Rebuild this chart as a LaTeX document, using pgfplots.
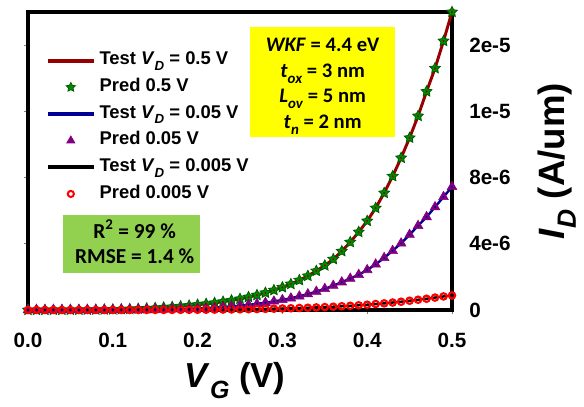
\documentclass[border=0pt]{standalone}
\usepackage{fontspec}
\setmainfont{Liberation Sans}
\newfontfamily\calfont{Carlito}
\usepackage{graphicx}
\usepackage{pgfplots}
\usepackage{pgfplotstable}
\pgfplotsset{compat=1.18}

\definecolor{dred}{RGB}{150,0,0}
\definecolor{navy}{RGB}{0,0,150}
\definecolor{sgreen}{RGB}{0,140,0}
\definecolor{dgreen}{RGB}{0,90,0}
\definecolor{purp}{RGB}{128,0,128}
\definecolor{ybox}{RGB}{255,255,0}
\definecolor{gbox}{RGB}{146,208,80}

\newcommand\sub[1]{\raisebox{-0.3em}{\scalebox{0.72}{#1}}}

\pgfdeclareplotmark{fstar}{%
  \pgfpathmoveto{\pgfpointpolar{90}{\pgfplotmarksize}}%
  \pgfpathlineto{\pgfpointpolar{126}{0.5\pgfplotmarksize}}%
  \pgfpathlineto{\pgfpointpolar{162}{\pgfplotmarksize}}%
  \pgfpathlineto{\pgfpointpolar{198}{0.5\pgfplotmarksize}}%
  \pgfpathlineto{\pgfpointpolar{234}{\pgfplotmarksize}}%
  \pgfpathlineto{\pgfpointpolar{270}{0.5\pgfplotmarksize}}%
  \pgfpathlineto{\pgfpointpolar{306}{\pgfplotmarksize}}%
  \pgfpathlineto{\pgfpointpolar{342}{0.5\pgfplotmarksize}}%
  \pgfpathlineto{\pgfpointpolar{18}{\pgfplotmarksize}}%
  \pgfpathlineto{\pgfpointpolar{54}{0.5\pgfplotmarksize}}%
  \pgfpathclose
  \pgfusepathqfillstroke}

% V_G (V), I_D (1e-6 A/um) for V_D = 0.5, 0.05, 0.005 V
\pgfplotstableread{
v g b r
0.00 0.0012 0.0004 0.00007
0.01 0.0017 0.0006 0.00009
0.02 0.0024 0.0008 0.00012
0.03 0.0034 0.0010 0.00016
0.04 0.0048 0.0014 0.00022
0.05 0.0068 0.0019 0.0003
0.06 0.0095 0.0025 0.0004
0.07 0.013 0.0034 0.0005
0.08 0.018 0.0045 0.0007
0.09 0.025 0.006 0.0009
0.10 0.033 0.008 0.0012
0.11 0.044 0.0105 0.0016
0.12 0.058 0.014 0.0021
0.13 0.075 0.018 0.0028
0.14 0.095 0.024 0.0036
0.15 0.12 0.031 0.0046
0.16 0.15 0.04 0.0059
0.17 0.185 0.05 0.0075
0.18 0.225 0.063 0.0095
0.19 0.27 0.078 0.012
0.20 0.32 0.096 0.015
0.21 0.37 0.118 0.019
0.22 0.43 0.145 0.023
0.23 0.50 0.177 0.028
0.24 0.58 0.215 0.034
0.25 0.67 0.26 0.041
0.26 0.78 0.31 0.049
0.27 0.90 0.37 0.058
0.28 1.04 0.44 0.068
0.29 1.20 0.52 0.079
0.30 1.37 0.61 0.091
0.31 1.57 0.71 0.105
0.32 1.80 0.83 0.12
0.33 2.06 0.96 0.137
0.34 2.36 1.11 0.156
0.35 2.69 1.28 0.177
0.36 3.07 1.47 0.20
0.37 3.55 1.68 0.225
0.38 4.10 1.90 0.255
0.39 4.71 2.13 0.285
0.40 5.38 2.42 0.32
0.41 6.16 2.76 0.36
0.42 7.07 3.15 0.40
0.43 8.08 3.58 0.45
0.44 9.19 4.03 0.50
0.45 10.4 4.55 0.56
0.46 11.72 5.09 0.62
0.47 13.2 5.62 0.68
0.48 14.6 6.22 0.75
0.49 16.25 6.83 0.82
0.50 18.0 7.44 0.88
}\data

\begin{document}
\begin{tikzpicture}
\begin{axis}[
  scale only axis, width=318pt, height=223.5pt,
  xmin=0, xmax=0.5, ymin=0, ymax=18,
  clip=false,
  axis line style={line width=2.6pt},
  xtick={0,0.1,0.2,0.3,0.4,0.5},
  xticklabels={0.0,0.1,0.2,0.3,0.4,0.5},
  ytick={0,4,8,12,16},
  yticklabels={0,4e-6,8e-6,1e-5,2e-5},
  tick align=outside, xtick pos=bottom, ytick pos=left, yticklabel pos=right,
  major tick length=3pt, tick style={gray, line width=0.6pt},
  ticklabel style={font=\bfseries\fontsize{15.5}{18}\selectfont},
  xticklabel style={anchor=north, inner sep=0pt, yshift=-14pt},
  yticklabel style={anchor=west, inner sep=0pt, xshift=9.75pt},
  xlabel={\textit{V}\sub{\textit{G}} (V)},
  ylabel={\textit{I}\sub{\textit{D}} (A/um)},
  every axis x label/.style={at={(axis description cs:0.488,-0.2617)}, anchor=base, font=\bfseries\fontsize{26}{30}\selectfont},
  every axis y label/.style={at={(axis description cs:1.2665,0.5)}, anchor=base, rotate=90, font=\bfseries\fontsize{27.5}{32}\selectfont},
  legend image code/.code={\draw[mark repeat=2,mark phase=2,#1] plot coordinates {(0cm,0cm) (0.6cm,0cm) (1.2cm,0cm)};},
  legend cell align=left,
  legend style={draw=none, fill=none, inner sep=0pt, at={(axis description cs:0.042,0.8725)}, anchor=north west,
    font=\bfseries\fontsize{13.8}{16}\selectfont, row sep=4.5pt, column sep=2pt,
    nodes={text height=10pt, text depth=3.5pt, inner sep=1pt}},
]
\addlegendimage{dred, line width=3pt}
\addlegendentry{Test \textit{V}\sub{\textit{D}} = 0.5 V}
\addlegendimage{only marks, mark=fstar, mark size=3.6pt, draw=dgreen, fill=sgreen, line width=0.6pt}
\addlegendentry{Pred 0.5 V}
\addlegendimage{navy, line width=3pt}
\addlegendentry{Test \textit{V}\sub{\textit{D}} = 0.05 V}
\addlegendimage{only marks, mark=triangle*, mark size=3.6pt, draw=purp, fill=purp}
\addlegendentry{Pred 0.05 V}
\addlegendimage{black, line width=3pt}
\addlegendentry{Test \textit{V}\sub{\textit{D}} = 0.005 V}
\addlegendimage{only marks, mark=o, mark size=2.3pt, draw=red, line width=1.5pt}
\addlegendentry{Pred 0.005 V}

\addplot[forget plot, dred, line width=2.2pt] table[x=v, y=g] {\data};
\addplot[forget plot, navy, line width=1.8pt] table[x=v, y=b] {\data};
\addplot[forget plot, black, line width=1.8pt] table[x=v, y=r] {\data};
\addplot[forget plot, only marks, mark=fstar, mark size=4.2pt, draw=dgreen, fill=sgreen, line width=0.6pt] table[x=v, y=g] {\data};
\addplot[forget plot, only marks, mark=triangle*, mark size=4.2pt, draw=purp, fill=purp] table[x=v, y=b] {\data};
\addplot[forget plot, only marks, mark=o, mark size=2.4pt, draw=red, line width=1.6pt] table[x=v, y=r] {\data};
\addplot[forget plot, only marks, mark=*, mark size=0.5pt, dred] table[x=v, y=g] {\data};
\addplot[forget plot, only marks, mark=*, mark size=0.5pt, navy] table[x=v, y=b] {\data};
\addplot[forget plot, only marks, mark=*, mark size=0.5pt, black] table[x=v, y=r] {\data};
\end{axis}
% yellow parameter box
\fill[ybox] (166.5pt,129.75pt) rectangle (275.25pt,212.25pt);
\begin{scope}[every node/.style={anchor=base, inner sep=0pt, font=\calfont\bfseries\fontsize{15.5}{18}\selectfont}]
\node at (221pt,194pt) {\textit{WKF} = 4.4 eV};
\node at (221pt,174.5pt) {\textit{t}\sub{\textit{ox}} = 3 nm};
\node at (221pt,155.5pt) {\textit{L}\sub{\textit{ov}} = 5 nm};
\node at (221pt,136.3pt) {\textit{t}\sub{\textit{n}} = 2 nm};
\end{scope}
% green metrics box
\fill[gbox] (26.25pt,27.75pt) rectangle (129pt,71.25pt);
\begin{scope}[every node/.style={anchor=base, inner sep=0pt, font=\calfont\bfseries\fontsize{16}{19}\selectfont}]
\node at (80pt,53.8pt) {R\textsuperscript{2} = 99 \%};
\node at (80pt,34.5pt) {RMSE = 1.4 \%};
\end{scope}
\pgfresetboundingbox
\path (-21pt,-72pt) rectangle (417pt,232.5pt);
\end{tikzpicture}
\end{document}
